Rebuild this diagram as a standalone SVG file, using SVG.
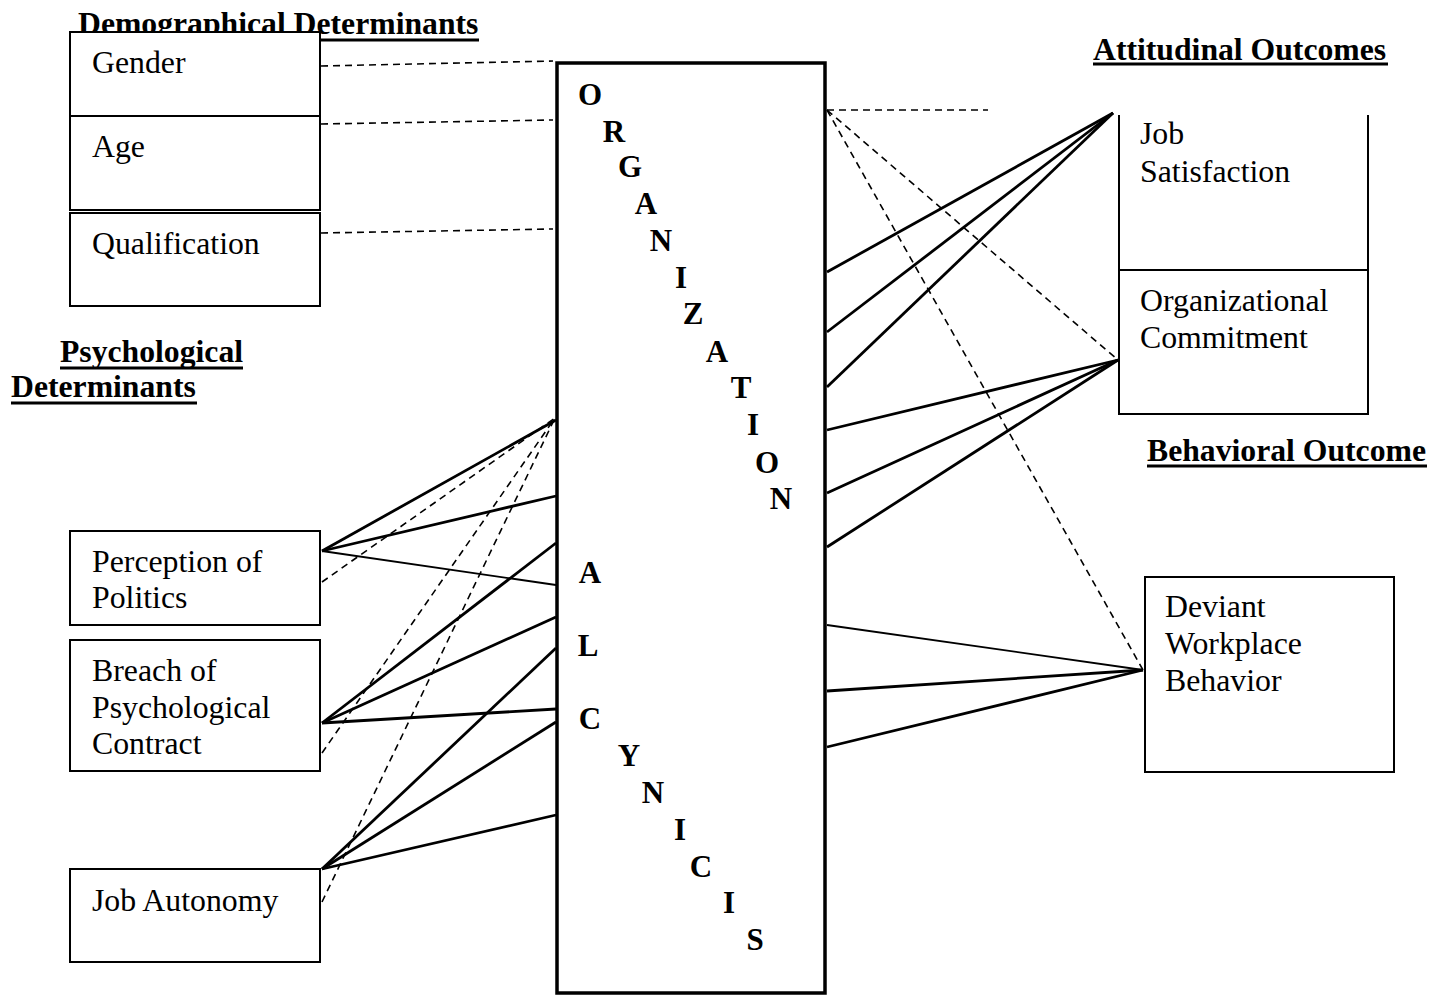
<svg xmlns="http://www.w3.org/2000/svg" width="1444" height="996" viewBox="0 0 1444 996">
<style>
.bx{fill:#fff;stroke:#000;stroke-width:2}
.t{font-family:"Liberation Serif","Times New Roman",serif;font-size:31.8px;fill:#000}
.h{font-family:"Liberation Serif","Times New Roman",serif;font-size:31.7px;font-weight:bold;fill:#000}
.l{font-family:"Liberation Serif","Times New Roman",serif;font-size:31px;font-weight:bold;fill:#000;text-anchor:middle}
.ul{stroke:#000;stroke-width:3}
.s{stroke:#000;stroke-width:2.8;fill:none}
.sn{stroke:#000;stroke-width:1.8;fill:none}
.d{stroke:#000;stroke-width:1.6;stroke-dasharray:7 5;fill:none}
</style>
<rect width="1444" height="996" fill="#fff"/>
<g id="headings">
<text class="h" x="78" y="34">Demographical Determinants</text>
<line class="ul" x1="78" y1="40" x2="479" y2="40"/>
<text class="h" x="1093" y="60">Attitudinal Outcomes</text>
<line class="ul" x1="1093" y1="64" x2="1388" y2="64"/>
<text class="h" x="60" y="362">Psychological</text>
<line class="ul" x1="60" y1="368" x2="243" y2="368"/>
<text class="h" x="11" y="397">Determinants</text>
<line class="ul" x1="11" y1="403" x2="197" y2="403"/>
<text class="h" x="1147" y="461">Behavioral Outcome</text>
<line class="ul" x1="1147" y1="466" x2="1427" y2="466"/>
</g>
<g id="connectors">
<line class="d" x1="321" y1="66" x2="553" y2="61"/>
<line class="d" x1="321" y1="124" x2="553" y2="120"/>
<line class="d" x1="321" y1="233" x2="553" y2="229"/>
<line class="d" x1="827" y1="110" x2="988" y2="110"/>
<line class="d" x1="827" y1="110" x2="1118" y2="360"/>
<line class="d" x1="827" y1="110" x2="1143" y2="670"/>
<line class="s" x1="827" y1="272" x2="1113" y2="113"/>
<line class="s" x1="827" y1="332" x2="1113" y2="113"/>
<line class="s" x1="827" y1="387" x2="1113" y2="113"/>
<line class="s" x1="827" y1="430" x2="1118" y2="360"/>
<line class="s" x1="827" y1="493" x2="1118" y2="360"/>
<line class="s" x1="827" y1="547" x2="1118" y2="360"/>
<line class="sn" x1="827" y1="625" x2="1143" y2="670"/>
<line class="s" x1="827" y1="691" x2="1143" y2="670"/>
<line class="s" x1="827" y1="747" x2="1143" y2="670"/>
<line class="s" x1="322" y1="551" x2="556" y2="420"/>
<line class="s" x1="322" y1="551" x2="556" y2="496"/>
<line class="sn" x1="322" y1="551" x2="556" y2="585"/>
<line class="d" x1="322" y1="582" x2="555" y2="418"/>
<line class="s" x1="322" y1="723" x2="556" y2="543"/>
<line class="s" x1="322" y1="723" x2="556" y2="617"/>
<line class="s" x1="322" y1="723" x2="556" y2="709"/>
<line class="d" x1="322" y1="753" x2="555" y2="418"/>
<line class="s" x1="322" y1="869" x2="556" y2="648"/>
<line class="s" x1="322" y1="869" x2="556" y2="722"/>
<line class="s" x1="322" y1="869" x2="556" y2="815"/>
<line class="d" x1="322" y1="902" x2="555" y2="418"/>
</g>
<g id="gender"><rect class="bx" x="70" y="32" width="250" height="84"/><text class="t" x="92" y="73">Gender</text></g>
<g id="age"><rect class="bx" x="70" y="116" width="250" height="94"/><text class="t" x="92" y="157">Age</text></g>
<g id="qualification"><rect class="bx" x="70" y="213" width="250" height="93"/><text class="t" x="92" y="254">Qualification</text></g>
<g id="perception"><rect class="bx" x="70" y="531" width="250" height="94"/><text class="t" x="92" y="572">Perception of</text><text class="t" x="92" y="608">Politics</text></g>
<g id="breach"><rect class="bx" x="70" y="640" width="250" height="131"/><text class="t" x="92" y="681">Breach of</text><text class="t" x="92" y="718">Psychological</text><text class="t" x="92" y="754">Contract</text></g>
<g id="autonomy"><rect class="bx" x="70" y="869" width="250" height="93"/><text class="t" x="92" y="911">Job Autonomy</text></g>
<g id="satisfaction"><path d="M1119 115 V270 H1368 V115" fill="none" stroke="#000" stroke-width="2"/><text class="t" x="1140" y="144">Job</text><text class="t" x="1140" y="182">Satisfaction</text></g>
<g id="commitment"><rect class="bx" x="1119" y="270" width="249" height="144"/><text class="t" x="1140" y="311">Organizational</text><text class="t" x="1140" y="348">Commitment</text></g>
<g id="deviant"><rect class="bx" x="1145" y="577" width="249" height="195"/><text class="t" x="1165" y="617">Deviant</text><text class="t" x="1165" y="654">Workplace</text><text class="t" x="1165" y="691">Behavior</text></g>
<g id="cynicism">
<rect x="557" y="63" width="268" height="930" fill="none" stroke="#000" stroke-width="3.5"/>
<text class="l" x="590" y="105">O</text>
<text class="l" x="614" y="142">R</text>
<text class="l" x="630" y="177">G</text>
<text class="l" x="646" y="214">A</text>
<text class="l" x="661" y="251">N</text>
<text class="l" x="681" y="288">I</text>
<text class="l" x="693" y="324">Z</text>
<text class="l" x="717" y="362">A</text>
<text class="l" x="741" y="398">T</text>
<text class="l" x="753" y="435">I</text>
<text class="l" x="767" y="473">O</text>
<text class="l" x="781" y="509">N</text>
<text class="l" x="590" y="583">A</text>
<text class="l" x="588" y="656">L</text>
<text class="l" x="590" y="729">C</text>
<text class="l" x="629" y="766">Y</text>
<text class="l" x="653" y="803">N</text>
<text class="l" x="680" y="840">I</text>
<text class="l" x="701" y="877">C</text>
<text class="l" x="729" y="913">I</text>
<text class="l" x="755" y="950">S</text>
</g>
</svg>
